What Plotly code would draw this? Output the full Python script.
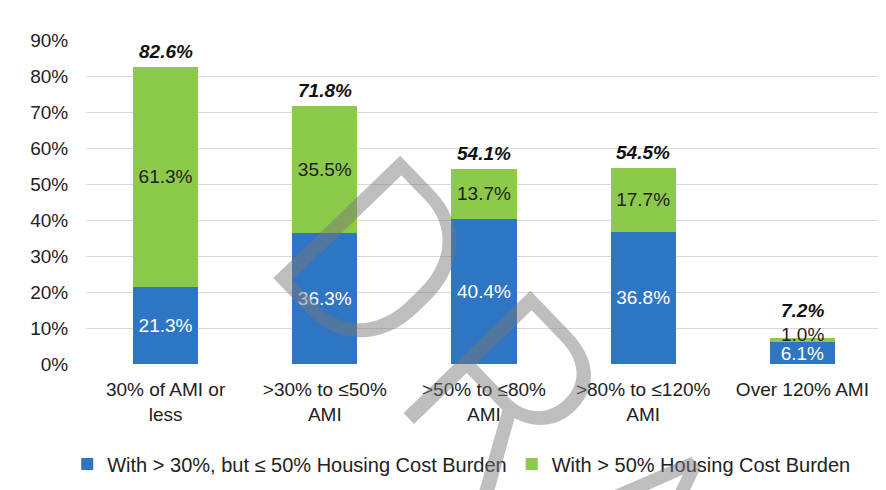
import plotly.graph_objects as go

categories = ["30% of AMI or<br>less", ">30% to ≤50%<br>AMI", ">50% to ≤80%<br>AMI",
              ">80% to ≤120%<br>AMI", "Over 120% AMI"]
burden_30_50 = [21.3, 36.3, 40.4, 36.8, 6.1]
burden_over_50 = [61.3, 35.5, 13.7, 17.7, 1.0]
totals = [82.6, 71.8, 54.1, 54.5, 7.2]
series_names = ["With > 30%, but ≤ 50% Housing Cost Burden", "With > 50% Housing Cost Burden"]

BLUE = "#2E75C4"
GREEN = "#8DC94A"
FONT = "Liberation Sans, Arial, sans-serif"
SMALL = 5  # segments below this get their label placed just above the bar

fig = go.Figure()
fig.add_trace(go.Bar(
    x=categories, y=burden_30_50, name=series_names[0],
    marker=dict(color=BLUE, line=dict(width=0)),
    text=[f"{v:.1f}%" for v in burden_30_50], textposition="inside",
    insidetextanchor="middle", textfont=dict(color="white", size=19, family=FONT),
    hoverinfo="skip",
))
fig.add_trace(go.Bar(
    x=categories, y=burden_over_50, name=series_names[1],
    marker=dict(color=GREEN, line=dict(width=0)),
    text=[f"{v:.1f}%" if v >= SMALL else "" for v in burden_over_50], textposition="inside",
    insidetextanchor="middle", textfont=dict(color="#1f1f1f", size=19, family=FONT),
    hoverinfo="skip",
))

for c, b, g, t in zip(categories, burden_30_50, burden_over_50, totals):
    if g < SMALL:
        fig.add_annotation(
            x=c, y=b + g, text=f"{g:.1f}%", showarrow=False, yanchor="middle", yshift=4,
            font=dict(size=19, color="#1f1f1f", family=FONT),
        )
    fig.add_annotation(
        x=c, y=t, text=f"<b><i>{t:.1f}%</i></b>", showarrow=False,
        yanchor="bottom", yshift=3 if g >= SMALL else 15,
        font=dict(size=19, color="#111111", family=FONT),
    )

# DRAFT watermark
HS = "\u200a"
fig.add_annotation(
    xref="paper", yref="paper", x=0.670, y=-0.463, xanchor="center", yanchor="middle",
    text=HS.join("DRAFT"), textangle=46, showarrow=False,
    font=dict(size=248, color="rgba(120,120,120,0.48)", family="Roboto", weight=355),
)

fig.update_layout(
    barmode="stack", bargap=0.59,
    width=886, height=490,
    margin=dict(l=78, r=12, t=32, b=134, autoexpand=False),
    plot_bgcolor="white", paper_bgcolor="white",
    font=dict(family=FONT, size=19, color="#222222"),
    uniformtext=dict(minsize=19, mode="show"),
    legend=dict(orientation="h", x=0.472, xanchor="center", y=-0.309, yanchor="middle",
                font=dict(size=20, color="#222222"), itemwidth=30, traceorder="normal"),
    showlegend=True,
)
fig.update_yaxes(range=[0, 90], dtick=10, ticksuffix="%", showgrid=True,
                 gridcolor="#d9d9d9", gridwidth=1, zeroline=False,
                 ticks="outside", ticklen=13, tickcolor="rgba(0,0,0,0)",
                 tickfont=dict(size=19, color="#222222"), showline=False)
fig.update_xaxes(showgrid=False, ticks="outside", ticklen=8, tickcolor="rgba(0,0,0,0)",
                 tickfont=dict(size=19, color="#222222"), showline=False)

fig.write_html("out.html")
